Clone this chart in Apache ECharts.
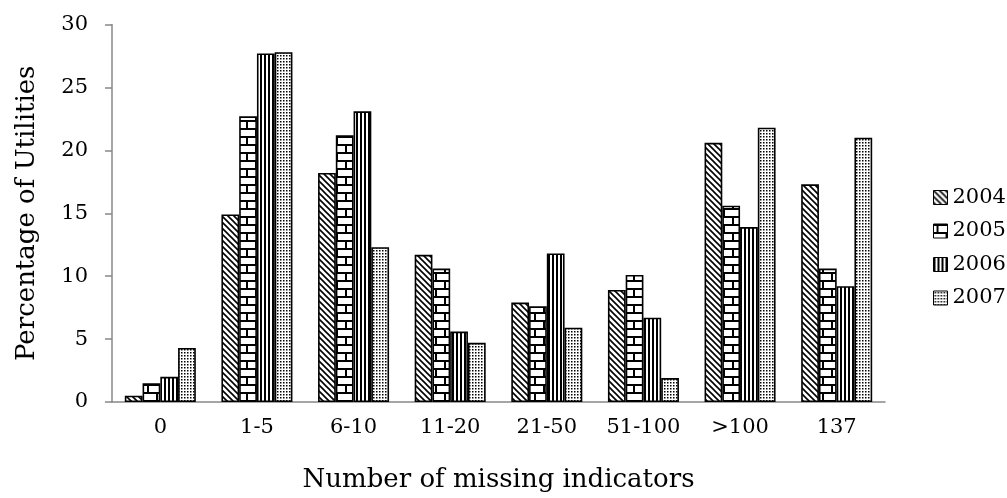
<!DOCTYPE html>
<html>
<head>
<meta charset="utf-8">
<script src="https://cdn.jsdelivr.net/npm/echarts@6/dist/echarts.min.js"></script>
<style>
html,body{margin:0;padding:0;background:#fff;}
#chart{width:1007px;height:498px;}
</style>
</head>
<body>
<div id="chart"></div>
<script>
const categories = ['0', '1-5', '6-10', '11-20', '21-50', '51-100', '>100', '137'];
const years = ['2004', '2005', '2006', '2007'];
const v2004 = [0.5, 14.9, 18.2, 11.7, 7.9, 8.9, 20.6, 17.3];
const v2005 = [1.5, 22.7, 21.2, 10.6, 7.6, 10.1, 15.6, 10.6];
const v2006 = [2.0, 27.7, 23.1, 5.6, 11.8, 6.7, 13.9, 9.2];
const v2007 = [4.3, 27.8, 12.3, 4.7, 5.9, 1.9, 21.8, 21.0];
const seriesValues = [v2004, v2005, v2006, v2007];
const yMin = 0, yMax = 30, yStep = 5;

function tile(w, h, draw) {
  const c = document.createElement('canvas');
  c.width = w; c.height = h;
  const ctx = c.getContext('2d');
  ctx.fillStyle = '#fff';
  ctx.fillRect(0, 0, w, h);
  ctx.fillStyle = '#000';
  ctx.strokeStyle = '#000';
  draw(ctx);
  return c;
}
const patterns = [
  // 2004: diagonal "\" hatch
  tile(6, 6, ctx => {
    ctx.lineWidth = 1.6;
    ctx.beginPath();
    ctx.moveTo(-1, -1); ctx.lineTo(7, 7);
    ctx.moveTo(-4, 2); ctx.lineTo(2, 8);
    ctx.moveTo(4, -2); ctx.lineTo(10, 4);
    ctx.stroke();
  }),
  // 2005: brick
  tile(18, 16, ctx => {
    ctx.fillRect(0, 0, 18, 2);
    ctx.fillRect(0, 8, 18, 2);
    ctx.fillRect(3, 0, 2, 8);
    ctx.fillRect(12, 8, 2, 8);
  }),
  // 2006: vertical stripes
  tile(4, 4, ctx => {
    ctx.fillRect(0, 0, 2, 4);
  }),
  // 2007: dots
  tile(3, 3, ctx => {
    ctx.fillRect(1, 1, 1.5, 1.5);
  })
];

const chart = echarts.init(document.getElementById('chart'), null, {renderer: 'canvas'});
const font = '"DejaVu Serif", serif';

chart.setOption({
  animation: false,
  backgroundColor: '#fff',
  grid: {left: 112, right: 122, top: 24.5, bottom: 91, containLabel: false},
  legend: {
    orient: 'vertical',
    left: 928,
    top: 182,
    itemWidth: 14,
    itemHeight: 14,
    itemGap: 12.5,
    icon: 'rect',
    data: years,
    textStyle: {fontFamily: font, fontSize: 21, color: '#000', lineHeight: 20},
    itemStyle: {borderColor: '#000', borderWidth: 1}
  },
  xAxis: {
    type: 'category',
    data: categories,
    name: 'Number of missing indicators',
    nameLocation: 'middle',
    nameGap: 65,
    nameTextStyle: {fontFamily: font, fontSize: 26, color: '#000'},
    axisLine: {show: true, lineStyle: {color: '#888', width: 1.5}},
    axisTick: {show: false},
    axisLabel: {fontFamily: font, fontSize: 21, color: '#000', margin: 15, interval: 0},
    splitLine: {show: false}
  },
  yAxis: {
    type: 'value',
    min: yMin,
    max: yMax,
    interval: yStep,
    name: 'Percentage of Utilities',
    nameLocation: 'middle',
    nameGap: 72,
    nameTextStyle: {fontFamily: font, fontSize: 26, color: '#000'},
    axisLine: {show: true, lineStyle: {color: '#888', width: 1.5}},
    axisTick: {show: true, inside: false, length: 7, lineStyle: {color: '#888', width: 1.5}},
    axisLabel: {fontFamily: font, fontSize: 21, color: '#000', margin: 24},
    splitLine: {show: false}
  },
  series: years.map((y, i) => ({
    name: y,
    type: 'bar',
    data: seriesValues[i],
    barGap: '0%',
    barCategoryGap: '26.5%',
    itemStyle: {
      color: {image: patterns[i], repeat: 'repeat'},
      borderColor: '#000',
      borderWidth: 1.6
    }
  }))
});
</script>
</body>
</html>
